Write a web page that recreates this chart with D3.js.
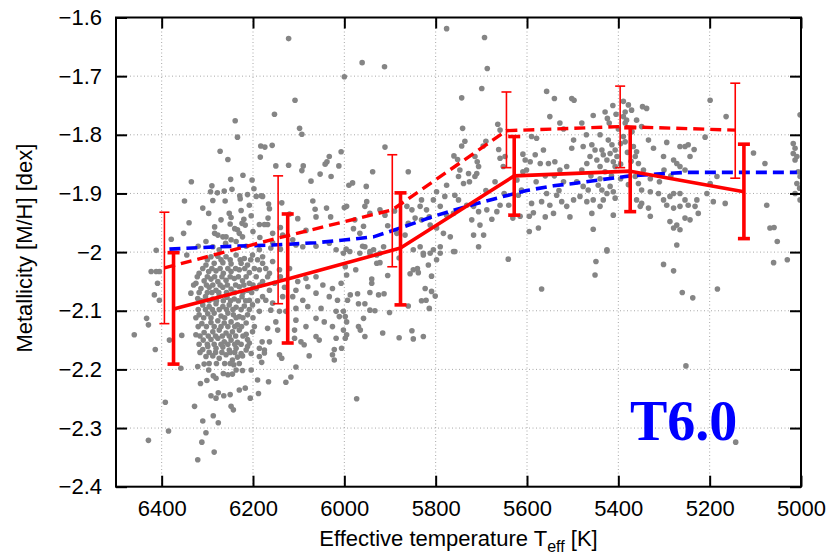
<!DOCTYPE html>
<html>
<head>
<meta charset="utf-8">
<script src="https://cdn.jsdelivr.net/npm/d3@7/dist/d3.min.js"></script>
<style>
  html, body { margin: 0; padding: 0; background: #fff; }
  svg text { font-family: "Liberation Sans", Arial, Helvetica, sans-serif; fill: #000; }
</style>
</head>
<body>
<svg id="chart" width="832" height="554"></svg>
<script>
// Axis ticks
const xTicks = [6400, 6200, 6000, 5800, 5600, 5400, 5200, 5000];
const yTicks = [-2.4, -2.3, -2.2, -2.1, -2.0, -1.9, -1.8, -1.7, -1.6];

// Individual stars: [Teff (K), [M/H] (dex)]
const stars = [
  [6122,-1.636],[6108,-1.741],[6153,-1.765],[6239,-1.776],[6234,-1.804],[6098,-1.789],[6093,-1.799],[6183,-1.819],[6174,-1.821],[6158,-1.818],
  [6272,-1.828],[6184,-1.838],[6255,-1.842],[6150,-1.853],[6122,-1.852],[6090,-1.853],[6093,-1.861],[6033,-1.837],[6038,-1.846],[6042,-1.850],
  [6012,-1.853],[6007,-1.829],[6053,-1.867],[6029,-1.871],[6073,-1.879],[6335,-1.880],[6222,-1.869],[6202,-1.877],[6249,-1.876],[6290,-1.887],
  [6350,-1.913],[6293,-1.897],[6278,-1.899],[6263,-1.896],[6246,-1.893],[6288,-1.912],[6261,-1.913],[6229,-1.904],[6228,-1.909],[6212,-1.902],
  [6208,-1.920],[6198,-1.892],[6193,-1.905],[6182,-1.904],[6179,-1.905],[6166,-1.918],[6164,-1.926],[6137,-1.916],[6069,-1.913],[6064,-1.927],
  [6062,-1.940],[6039,-1.925],[6030,-1.940],[6000,-1.924],[6297,-1.934],[6252,-1.934],[6248,-1.941],[6226,-1.929],[6220,-1.944],[6224,-1.951],
  [6204,-1.938],[6284,-1.957],[6284,-1.968],[6277,-1.971],[6266,-1.974],[6259,-1.974],[6250,-1.952],[6234,-1.962],[6230,-1.968],[6223,-1.974],
  [6217,-1.954],[6186,-1.953],[6175,-1.953],[6168,-1.953],[6167,-1.942],[6157,-1.968],[6135,-1.971],[6102,-1.943],[6084,-1.963],[6352,-1.968],
  [6379,-1.978],[6303,-1.982],[6412,-1.997],[6248,-1.979],[6237,-1.982],[6113,-1.979],[6106,-1.988],[6091,-1.991],[6062,-1.990],[6033,-1.985],
  [6018,-1.996],[5996,-1.995],[6288,-1.991],[6274,-1.996],[6186,-1.996],[6161,-1.993],[6157,-1.984],[6000,-1.701],
  [6292,-2.008],[6277,-2.007],[6259,-2.008],[6237,-2.005],[6219,-2.011],[6201,-2.005],[6179,-2.008],
  [6303,-2.022],[6285,-2.019],[6266,-2.018],[6248,-2.020],[6226,-2.019],[6212,-2.022],[6179,-2.019],[6157,-2.016],
  [6318,-2.036],[6297,-2.033],[6281,-2.032],[6265,-2.036],[6248,-2.033],[6230,-2.030],[6208,-2.035],[6186,-2.030],[6164,-2.036],[6142,-2.030],[6120,-2.028],
  [6325,-2.053],[6307,-2.049],[6292,-2.046],[6277,-2.050],[6259,-2.048],[6241,-2.045],[6223,-2.049],[6208,-2.053],[6179,-2.050],[6153,-2.053],[6102,-2.050],[6084,-2.045],[6062,-2.042],
  [6336,-2.070],[6314,-2.062],[6296,-2.060],[6281,-2.065],[6266,-2.060],[6248,-2.063],[6230,-2.059],[6212,-2.065],[6193,-2.062],[6179,-2.076],[6164,-2.065],[6131,-2.060],[6106,-2.065],[6080,-2.059],[6047,-2.056],[6026,-2.062],[6007,-2.053],
  [6321,-2.079],[6304,-2.076],[6288,-2.080],[6274,-2.075],[6257,-2.077],[6241,-2.080],[6224,-2.076],[6208,-2.082],[6172,-2.082],[6157,-2.087],[6135,-2.076],[6113,-2.076],[6091,-2.082],[6062,-2.070],[6033,-2.076],[6015,-2.082],
  [6310,-2.090],[6296,-2.093],[6281,-2.088],[6266,-2.093],[6252,-2.090],[6237,-2.094],[6219,-2.092],[6201,-2.090],[6161,-2.099],[6142,-2.101],[6106,-2.096],[6080,-2.093],[6051,-2.096],[6018,-2.101],
  [6318,-2.107],[6299,-2.105],[6285,-2.104],[6270,-2.109],[6255,-2.104],[6243,-2.107],[6230,-2.110],[6212,-2.107],[6186,-2.101],[6128,-2.101],[6106,-2.116],[6062,-2.113],[6044,-2.119],[6011,-2.110],
  [6312,-2.122],[6292,-2.120],[6277,-2.117],[6263,-2.121],[6248,-2.119],[6234,-2.124],[6215,-2.121],[6197,-2.127],[6168,-2.130],[6150,-2.119],[6084,-2.127],[6026,-2.127],
  [6325,-2.141],[6307,-2.137],[6288,-2.136],[6274,-2.133],[6259,-2.138],[6245,-2.136],[6230,-2.133],[6215,-2.140],[6201,-2.136],
  [6309,-2.150],[6292,-2.149],[6277,-2.147],[6263,-2.153],[6248,-2.150],[6234,-2.154],[6212,-2.149],
  [6310,-2.166],[6299,-2.161],[6281,-2.164],[6266,-2.162],[6252,-2.167],[6237,-2.164],[6226,-2.173],[6212,-2.161],
  [6303,-2.178],[6288,-2.177],[6274,-2.181],[6259,-2.175],[6245,-2.184],[6234,-2.179],
  [6423,-2.033],[6412,-2.033],[6405,-2.033],[6409,-2.053],[6416,-2.073],[6405,-2.082],[6433,-2.113],[6429,-2.124],[6460,-2.141],[6414,-2.166],
  [6383,-2.150],[6356,-2.142],[6358,-2.198],[6392,-2.256],[6385,-2.305],[6429,-2.321],[6328,-2.263],[6310,-2.288],[6303,-2.308],[6312,-2.324],
  [6321,-2.354],[6285,-2.341],[6287,-2.279],[6276,-2.291],[6292,-2.245],[6281,-2.249],[6276,-2.240],[6264,-2.245],[6250,-2.243],[6248,-2.263],
  [6243,-2.269],[6230,-2.235],[6217,-2.232],[6206,-2.249],[6188,-2.241],[6315,-2.224],[6301,-2.219],[6287,-2.211],[6281,-2.215],[6321,-2.195],
  [6307,-2.191],[6297,-2.201],[6265,-2.207],[6255,-2.209],[6245,-2.208],[6237,-2.201],[6242,-2.192],[6223,-2.202],[6204,-2.201],[6181,-2.188],
  [6166,-2.221],[6190,-2.218],[6128,-2.222],[6117,-2.213],[6106,-2.196],[6142,-2.175],[6137,-2.181],[6175,-2.167],[6175,-2.172],[6186,-2.178],
  [6077,-2.177],[6022,-2.184],[6026,-2.175],[6022,-2.166],[6018,-2.147],[6062,-2.144],[6055,-2.150],[6088,-2.158],[6095,-2.153],[6109,-2.147],
  [6109,-2.133],[6146,-2.133],[6164,-2.153],[6186,-2.164],[6180,-2.153],[6208,-2.155],[6215,-2.167],[6223,-2.177],[6204,-2.173],
  [5776,-1.619],[5693,-1.634],[5687,-1.687],[5961,-1.677],[5912,-1.684],[5699,-1.721],[5743,-1.737],[5557,-1.726],[5540,-1.738],[5741,-1.789],
  [5664,-1.782],[5659,-1.792],[5550,-1.769],[5528,-1.780],[5520,-1.790],[5590,-1.803],[5579,-1.806],[5736,-1.811],[5743,-1.819],[5696,-1.819],
  [5690,-1.811],[5760,-1.836],[5752,-1.842],[5714,-1.837],[5709,-1.846],[5706,-1.854],[5710,-1.866],[5714,-1.871],[5662,-1.825],[5659,-1.840],
  [5648,-1.837],[5652,-1.854],[5609,-1.833],[5604,-1.843],[5593,-1.846],[5582,-1.834],[5564,-1.826],[5571,-1.849],[5553,-1.849],[5539,-1.846],
  [5528,-1.860],[5513,-1.854],[5601,-1.860],[5609,-1.863],[5622,-1.877],[5612,-1.894],[5619,-1.903],[5990,-1.886],[5982,-1.882],[5938,-1.863],
  [5860,-1.863],[5911,-1.821],[5952,-1.888],[5750,-1.871],[5739,-1.883],[5726,-1.880],[5728,-1.866],[5747,-1.860],[5776,-1.886],[5758,-1.903],
  [5780,-1.905],[5798,-1.897],[5805,-1.911],[5790,-1.922],[5776,-1.937],[5761,-1.934],[5750,-1.911],[5732,-1.920],[5717,-1.922],[5706,-1.931],
  [5721,-1.945],[5703,-1.954],[5688,-1.928],[5666,-1.931],[5677,-1.944],[5659,-1.920],[5695,-1.971],[5717,-1.971],[5706,-1.991],[5631,-1.942],
  [5615,-1.939],[5595,-1.939],[5586,-1.933],[5595,-1.965],[5575,-1.959],[5590,-1.917],[5568,-1.914],[5550,-1.920],[5557,-1.900],[5535,-1.903],
  [5524,-1.914],[5513,-1.922],[5506,-1.940],[5542,-1.934],[5560,-1.940],[5831,-1.911],[5834,-1.922],[5831,-1.945],[5820,-1.928],[5814,-1.940],
  [5863,-1.922],[5852,-1.928],[5845,-1.942],[5812,-1.954],[5798,-1.959],[5783,-1.968],[5768,-1.974],[5790,-1.991],[5805,-1.996],[5758,-1.999],
  [5860,-1.951],[5885,-1.968],[5867,-1.971],[5922,-1.928],[5911,-1.937],[5951,-1.914],[5955,-1.922],[5944,-1.934],[5958,-1.956],[5966,-1.968],
  [5977,-1.945],[5995,-1.922],[5955,-1.991],[5936,-1.996],[5944,-2.002],[5914,-1.991],[5922,-2.002],[5834,-1.991],[5827,-2.002],[5849,-1.996],
  [5641,-2.012],[5568,-2.063],[5973,-2.250],[5998,-2.025],[5995,-2.039],[5987,-2.073],[5971,-2.071],[5993,-2.082],[5969,-2.088],[5955,-2.088],
  [5944,-2.099],[5933,-2.100],[5944,-2.069],[5940,-2.053],[5940,-2.046],[5925,-2.073],[5913,-2.071],[5929,-2.019],[5922,-2.018],[6002,-2.101],
  [5998,-2.110],[5995,-2.119],[6002,-2.133],[5995,-2.141],[5998,-2.147],[6006,-2.164],[5969,-2.127],[5965,-2.133],[5958,-2.113],[5955,-2.144],
  [5916,-2.138],[5901,-2.103],[5880,-2.146],[5852,-2.134],[5849,-2.148],[5827,-2.144],[5856,-2.037],[5849,-2.030],[5840,-2.028],[5838,-2.035],
  [5831,-2.083],[5821,-2.082],[5814,-2.096],[5823,-2.062],[5809,-2.067],[5801,-2.075],[5809,-2.041],[5816,-2.022],[5798,-2.013],[5827,-2.005],
  [5812,-2.002],[5790,-2.002],[5761,-1.999],[5860,-2.092],[6002,-2.002],[5988,-1.999],[5966,-2.002],[5944,-1.999],[5929,-2.005],
  [5502,-1.738],[5497,-1.741],[5455,-1.767],[5429,-1.761],[5424,-1.772],[5412,-1.750],[5389,-1.743],[5378,-1.749],[5371,-1.758],[5385,-1.761],
  [5389,-1.769],[5382,-1.775],[5385,-1.780],[5347,-1.752],[5338,-1.755],[5349,-1.786],[5199,-1.741],[5164,-1.769],[5002,-1.766],[5498,-1.809],
  [5502,-1.823],[5477,-1.820],[5458,-1.817],[5451,-1.826],[5462,-1.837],[5447,-1.843],[5469,-1.849],[5436,-1.826],[5433,-1.834],[5425,-1.843],
  [5440,-1.854],[5429,-1.863],[5422,-1.809],[5414,-1.817],[5407,-1.826],[5418,-1.832],[5403,-1.837],[5411,-1.846],[5407,-1.854],[5389,-1.803],
  [5385,-1.812],[5367,-1.820],[5360,-1.829],[5363,-1.837],[5356,-1.849],[5334,-1.809],[5323,-1.823],[5294,-1.813],[5265,-1.820],[5254,-1.820],
  [5247,-1.817],[5234,-1.825],[5243,-1.837],[5301,-1.837],[5279,-1.843],[5272,-1.849],[5265,-1.854],[5254,-1.860],[5210,-1.804],[5104,-1.831],
  [5079,-1.849],[5017,-1.815],[5013,-1.823],[5017,-1.832],[5009,-1.837],[5013,-1.843],[5006,-1.863],[5002,-1.871],[5009,-1.883],[5003,-1.891],
  [5013,-1.900],[5002,-1.911],[5491,-1.880],[5477,-1.888],[5466,-1.894],[5484,-1.905],[5498,-1.911],[5469,-1.914],[5455,-1.911],[5444,-1.886],
  [5436,-1.894],[5425,-1.900],[5418,-1.888],[5411,-1.897],[5407,-1.908],[5433,-1.911],[5458,-1.934],[5440,-1.922],[5411,-1.937],[5455,-1.961],
  [5425,-1.996],[5363,-1.871],[5356,-1.883],[5349,-1.894],[5360,-1.911],[5349,-1.917],[5352,-1.922],[5330,-1.897],[5330,-1.939],[5334,-1.925],
  [5312,-1.900],[5301,-1.911],[5287,-1.905],[5279,-1.900],[5294,-1.920],[5279,-1.925],[5265,-1.900],[5254,-1.911],[5247,-1.920],[5265,-1.922],
  [5228,-1.911],[5232,-1.922],[5225,-1.934],[5287,-1.948],[5272,-1.954],[5265,-1.962],[5279,-1.959],[5272,-1.988],[5254,-1.942],[5243,-1.945],
  [5206,-1.900],[5199,-1.883],[5192,-1.914],[5166,-1.917],[5184,-1.871],[5075,-1.920],[5068,-1.959],[5059,-1.958],[5052,-1.982],
  [5425,-1.998],[5449,-2.016],[5451,-2.039],[5301,-2.021],[5279,-2.032],[5260,-2.069],[5237,-2.078],[5183,-2.063],[5060,-2.018],[5030,-2.013],
  [5252,-2.194],[5143,-2.324]
];

// Stars in the crowded clumps (turn-off near 6250 K, giant branch near 5400 K)
const starsCrowded = [
  [6300,-2.013],[6270,-2.013],[6250,-2.013],[6228,-2.013],[6205,-2.013],[6190,-2.013],
  [6310,-2.028],[6290,-2.028],[6272,-2.028],[6255,-2.028],[6238,-2.028],[6218,-2.028],[6197,-2.028],[6172,-2.028],
  [6322,-2.042],[6300,-2.042],[6284,-2.042],[6268,-2.042],[6250,-2.042],[6232,-2.042],[6215,-2.042],[6193,-2.042],[6168,-2.042],[6140,-2.042],
  [6330,-2.056],[6302,-2.056],[6288,-2.056],[6272,-2.056],[6256,-2.056],[6238,-2.056],[6220,-2.056],[6200,-2.056],[6185,-2.056],
  [6318,-2.069],[6300,-2.069],[6290,-2.069],[6275,-2.069],[6258,-2.069],[6240,-2.069],[6222,-2.069],[6203,-2.069],
  [6313,-2.083],[6296,-2.083],[6280,-2.083],[6265,-2.083],[6249,-2.083],[6232,-2.083],[6216,-2.083],[6190,-2.083],
  [6320,-2.098],[6304,-2.098],[6289,-2.098],[6274,-2.098],[6258,-2.098],[6244,-2.098],[6226,-2.098],[6208,-2.098],
  [6325,-2.112],[6308,-2.112],[6292,-2.112],[6262,-2.112],[6237,-2.112],[6222,-2.112],[6200,-2.112],
  [6320,-2.127],[6302,-2.127],[6285,-2.127],[6270,-2.127],[6255,-2.127],[6240,-2.127],[6225,-2.127],
  [6316,-2.143],[6298,-2.143],[6282,-2.143],[6267,-2.143],[6252,-2.143],[6238,-2.143],[6222,-2.143],
  [6318,-2.157],[6300,-2.157],[6285,-2.157],[6270,-2.157],[6255,-2.157],[6240,-2.157],[6226,-2.157],
  [6316,-2.171],[6296,-2.171],[6282,-2.171],[6268,-2.171],[6250,-2.171],[6240,-2.171],
  [6296,-2.190],[6280,-2.190],[6262,-2.190],[6250,-2.190],[6230,-2.190],
  [6310,-1.925],[6270,-1.945],[6240,-1.960],[6200,-1.965],[6185,-1.975],[6140,-1.958],[6120,-1.935],[6260,-1.985],[6215,-1.990],
  [6140,-1.995],[6320,-1.990],[6345,-2.005],[6340,-1.950],
  [5400,-1.790],[5395,-1.815],[5380,-1.830],[5372,-1.845],[5395,-1.850],[5415,-1.870],[5440,-1.875],[5460,-1.870],[5395,-1.875],
  [5378,-1.885],[5420,-1.780],[5440,-1.800],[5470,-1.800],[5480,-1.860],[5345,-1.860],[5330,-1.875],[5310,-1.880],[5300,-1.860],
  [5285,-1.870],[5370,-1.795],[5405,-1.765],[5360,-1.775],[5480,-1.780],
  [5580,-1.880],[5560,-1.870],[5540,-1.870],[5530,-1.895],[5520,-1.880],[5640,-1.920],[5650,-1.900],[5690,-1.895],[5670,-1.880],
  [5980,-1.960],[5960,-1.990],[5905,-1.955],[5890,-1.930],[5975,-2.030],[5905,-2.040],[5880,-2.010]
];

// Binned means (solid line, thick error bars)
const binTeff = [6374, 6124, 5877, 5628, 5374, 5125];
const binMean = [-2.097, -2.046, -1.993, -1.870, -1.862, -1.897];
const binLow  = [-2.191, -2.155, -2.090, -1.937, -1.931, -1.977];
const binHigh = [-2.001, -1.935, -1.899, -1.803, -1.788, -1.816];

// Second binned series (dashed line, thin error bars)
const bin2Teff = [6394, 6145, 5895, 5645, 5396, 5144];
const bin2Mean = [-2.027, -1.976, -1.928, -1.793, -1.786, -1.792];
const bin2Low  = [-2.122, -2.088, -2.025, -1.856, -1.856, -1.874];
const bin2High = [-1.932, -1.870, -1.834, -1.727, -1.717, -1.712];

// Smoothed trend (blue dashed)
const trendTeff = [6383, 6281, 6157, 6062, 5996, 5936, 5878, 5805, 5732, 5666, 5601, 5542, 5498, 5433, 5374, 5316, 5250, 5009];
const trendMH   = [-1.995, -1.991, -1.988, -1.984, -1.979, -1.974, -1.959, -1.939, -1.922, -1.908, -1.895, -1.887, -1.883, -1.876, -1.870, -1.867, -1.864, -1.864];

const svg = d3.select("#chart");
const pL = 116, pR = 801, pT = 17.5, pB = 486.7;

const x = d3.scaleLinear().domain([6500, 5000]).range([pL, pR]);
const y = d3.scaleLinear().domain([-2.4, -1.6]).range([pB, pT]);

// Dotted grid
const grid = svg.append("g").attr("stroke", "#a8a8a8").attr("stroke-width", 1).attr("stroke-dasharray", "1,2.5");
grid.selectAll("line.gx").data(xTicks.filter(t => t < 6500 && t > 5000)).join("line")
  .attr("class", "gx")
  .attr("x1", d => x(d)).attr("x2", d => x(d)).attr("y1", pT).attr("y2", pB);
grid.selectAll("line.gy").data(yTicks.filter(t => t > -2.4 && t < -1.6)).join("line")
  .attr("class", "gy")
  .attr("x1", pL).attr("x2", pR).attr("y1", d => y(d)).attr("y2", d => y(d));

// Stars
svg.append("clipPath").attr("id", "plotclip").append("rect")
  .attr("x", pL).attr("y", pT).attr("width", pR - pL).attr("height", pB - pT);
svg.append("g").attr("clip-path", "url(#plotclip)")
  .selectAll("circle").data(stars.concat(starsCrowded)).join("circle")
  .attr("cx", d => x(d[0])).attr("cy", d => y(d[1])).attr("r", 2.8).attr("fill", "#858585");

// Blue dashed trend
const line = d3.line().x(d => x(d[0])).y(d => y(d[1]));
svg.append("path").datum(trendTeff.map((t, i) => [t, trendMH[i]]))
  .attr("d", line).attr("fill", "none").attr("stroke", "#0000ff")
  .attr("stroke-width", 3.6).attr("stroke-dasharray", "11,6");

// Red dashed series with thin error bars
svg.append("path").datum(bin2Teff.map((t, i) => [t, bin2Mean[i]]))
  .attr("d", line).attr("fill", "none").attr("stroke", "#ff0000")
  .attr("stroke-width", 3.4).attr("stroke-dasharray", "11,6");

function errorBars(teff, lo, hi, width, cap) {
  const g = svg.append("g").attr("stroke", "#ff0000").attr("stroke-width", width);
  teff.forEach((t, i) => {
    const cx = x(t);
    g.append("line").attr("x1", cx).attr("x2", cx).attr("y1", y(lo[i])).attr("y2", y(hi[i]));
    g.append("line").attr("x1", cx - cap).attr("x2", cx + cap).attr("y1", y(lo[i])).attr("y2", y(lo[i]));
    g.append("line").attr("x1", cx - cap).attr("x2", cx + cap).attr("y1", y(hi[i])).attr("y2", y(hi[i]));
  });
}
errorBars(bin2Teff, bin2Low, bin2High, 1.6, 5);

// Red solid series with thick error bars
svg.append("path").datum(binTeff.map((t, i) => [t, binMean[i]]))
  .attr("d", line).attr("fill", "none").attr("stroke", "#ff0000")
  .attr("stroke-width", 3.6).attr("stroke-linejoin", "round");
errorBars(binTeff, binLow, binHigh, 3.6, 6);

// Axes: labelled bottom/left, mirrored ticks top/right, all ticks inward
const fmtY = d3.format(".1~f");
const axisStyle = g => {
  g.select(".domain").remove();
  g.selectAll(".tick line").attr("stroke", "#000").attr("stroke-width", 2);
  g.selectAll(".tick text").attr("font-size", 22).attr("font-family", "'Liberation Sans', Arial, sans-serif").attr("fill", "#000");
};
svg.append("g").attr("transform", `translate(0,${pB})`)
  .call(d3.axisBottom(x).tickValues(xTicks).tickSizeInner(-11).tickSizeOuter(0).tickPadding(14).tickFormat(d3.format("d")))
  .call(axisStyle);
svg.append("g").attr("transform", `translate(${pL},0)`)
  .call(d3.axisLeft(y).tickValues(yTicks).tickSizeInner(-11).tickSizeOuter(0).tickPadding(14).tickFormat(fmtY))
  .call(axisStyle);
svg.append("g").attr("transform", `translate(0,${pT})`)
  .call(d3.axisTop(x).tickValues(xTicks).tickSizeInner(-11).tickSizeOuter(0).tickFormat(""))
  .call(axisStyle);
svg.append("g").attr("transform", `translate(${pR},0)`)
  .call(d3.axisRight(y).tickValues(yTicks).tickSizeInner(-11).tickSizeOuter(0).tickFormat(""))
  .call(axisStyle);

// Frame
svg.append("rect").attr("x", pL).attr("y", pT).attr("width", pR - pL).attr("height", pB - pT)
  .attr("fill", "none").attr("stroke", "#000").attr("stroke-width", 2);

// Axis titles
const xt = svg.append("text").attr("x", (pL + pR) / 2).attr("y", 546)
  .attr("text-anchor", "middle").attr("font-size", 22);
xt.append("tspan").text("Effective temperature T");
xt.append("tspan").attr("font-size", 16).attr("dy", 6).text("eff");
xt.append("tspan").attr("dy", -6).text(" [K]");

svg.append("text").attr("transform", `translate(32,${(pT + pB) / 2 - 4}) rotate(-90)`)
  .attr("text-anchor", "middle").attr("font-size", 22)
  .text("Metallicity [M/H] [dex]");

// Panel tag
svg.append("text").attr("x", 630).attr("y", 440)
  .attr("font-weight", "bold").attr("font-size", 56)
  .style("font-family", "'Liberation Serif', 'Times New Roman', serif")
  .style("fill", "#0000ff")
  .text("T6.0");
</script>
</body>
</html>
